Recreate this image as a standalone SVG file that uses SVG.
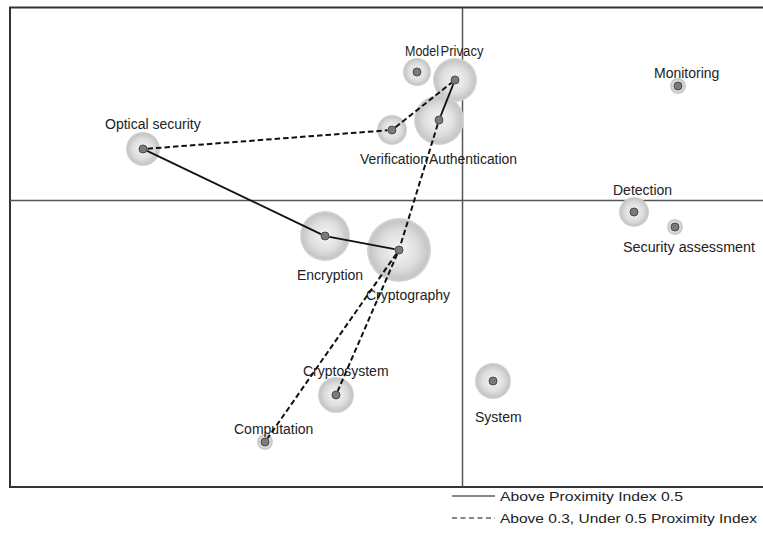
<svg xmlns="http://www.w3.org/2000/svg" width="763" height="536" viewBox="0 0 763 536">
<style>
  text { font-family: "Liberation Sans", Arial, sans-serif; font-size: 14px; fill: #222; }
  .bub { fill: url(#bg); }
  .dot { fill: #7a7a7a; stroke: #4a4a4a; stroke-width: 1; }
  .solid { stroke: #111; stroke-width: 1.8; fill: none; }
  .dash { stroke: #111; stroke-width: 2; stroke-dasharray: 5.5 3; fill: none; }
  .axis { stroke: #555; stroke-width: 1.5; fill: none; }
  .frame { stroke: #333; stroke-width: 2; fill: none; }
  .leg { font-size: 13.5px; }
</style>
<defs>
  <radialGradient id="bg" cx="0.5" cy="0.5" r="0.5">
    <stop offset="0" stop-color="#f6f6f6"/>
    <stop offset="0.6" stop-color="#dedede"/>
    <stop offset="0.9" stop-color="#c6c6c6"/>
    <stop offset="1" stop-color="#d6d6d6"/>
  </radialGradient>
</defs>
<rect x="0" y="0" width="763" height="536" fill="#ffffff"/>
<path class="frame" d="M764,7.5 H10 V487 H764"/>
<line class="axis" x1="462.5" y1="8" x2="462.5" y2="487"/>
<line class="axis" x1="10" y1="200.5" x2="764" y2="200.5"/>

<g id="node-model"><circle class="bub" cx="417" cy="72" r="14"/><circle class="dot" cx="417" cy="72" r="4"/><text x="405" y="56" textLength="34" lengthAdjust="spacingAndGlyphs">Model</text></g>
<g id="node-privacy"><circle class="bub" cx="455" cy="80" r="22"/><circle class="dot" cx="455" cy="80" r="4"/><text x="440.5" y="56" textLength="43" lengthAdjust="spacingAndGlyphs">Privacy</text></g>
<g id="node-authentication"><circle class="bub" cx="439" cy="120" r="25"/><circle class="dot" cx="439" cy="120" r="4"/><text x="429" y="164" textLength="88" lengthAdjust="spacingAndGlyphs">Authentication</text></g>
<g id="node-verification"><circle class="bub" cx="392" cy="130" r="15"/><circle class="dot" cx="392" cy="130" r="4"/><text x="360" y="164" textLength="68" lengthAdjust="spacingAndGlyphs">Verification</text></g>
<g id="node-optical-security"><circle class="bub" cx="143" cy="149" r="17"/><circle class="dot" cx="143" cy="149" r="4"/><text x="105" y="129">Optical security</text></g>
<g id="node-encryption"><circle class="bub" cx="325" cy="236" r="25"/><circle class="dot" cx="325" cy="236" r="4"/><text x="297" y="280">Encryption</text></g>
<g id="node-cryptography"><circle class="bub" cx="399" cy="250" r="32"/><circle class="dot" cx="399" cy="250" r="4"/><text x="366" y="300">Cryptography</text></g>
<g id="node-cryptosystem"><circle class="bub" cx="336" cy="395" r="18"/><circle class="dot" cx="336" cy="395" r="4"/><text x="303" y="376">Cryptosystem</text></g>
<g id="node-computation"><circle class="bub" cx="265" cy="442" r="8"/><circle class="dot" cx="265" cy="442" r="4"/><text x="234" y="434">Computation</text></g>
<g id="node-monitoring"><circle class="bub" cx="678" cy="86" r="8"/><circle class="dot" cx="678" cy="86" r="4"/><text x="654" y="78">Monitoring</text></g>
<g id="node-detection"><circle class="bub" cx="634" cy="212" r="15"/><circle class="dot" cx="634" cy="212" r="4"/><text x="613" y="195">Detection</text></g>
<g id="node-security-assessment"><circle class="bub" cx="675" cy="227" r="8"/><circle class="dot" cx="675" cy="227" r="4"/><text x="623" y="252" textLength="132" lengthAdjust="spacingAndGlyphs">Security assessment</text></g>
<g id="node-system"><circle class="bub" cx="493" cy="381" r="18"/><circle class="dot" cx="493" cy="381" r="4"/><text x="475" y="422">System</text></g>

<g id="connectors">
  <line class="solid" x1="147.1" y1="150.9" x2="320.9" y2="234.1"/>
  <line class="solid" x1="329.4" y1="236.8" x2="394.6" y2="249.2"/>
  <line class="solid" x1="453.3" y1="84.2" x2="440.7" y2="115.8"/>
  <line class="dash" x1="147.5" y1="148.7" x2="387.5" y2="130.3"/>
  <line class="dash" x1="395.5" y1="127.2" x2="451.5" y2="82.8"/>
  <line class="dash" x1="437.7" y1="124.3" x2="400.3" y2="245.7"/>
  <line class="dash" x1="397.2" y1="254.1" x2="337.8" y2="390.9"/>
  <line class="dash" x1="396.4" y1="253.7" x2="267.6" y2="438.3"/>
</g>

<g id="legend">
  <line stroke="#111" stroke-width="1.2" x1="452" y1="496" x2="495" y2="496"/>
  <text class="leg" x="500" y="501" textLength="183" lengthAdjust="spacingAndGlyphs">Above Proximity Index 0.5</text>
  <line stroke="#111" stroke-width="1.2" stroke-dasharray="5 3.5" x1="452" y1="518" x2="495" y2="518"/>
  <text class="leg" x="500" y="523" textLength="257" lengthAdjust="spacingAndGlyphs">Above 0.3, Under 0.5 Proximity Index</text>
</g>
</svg>
